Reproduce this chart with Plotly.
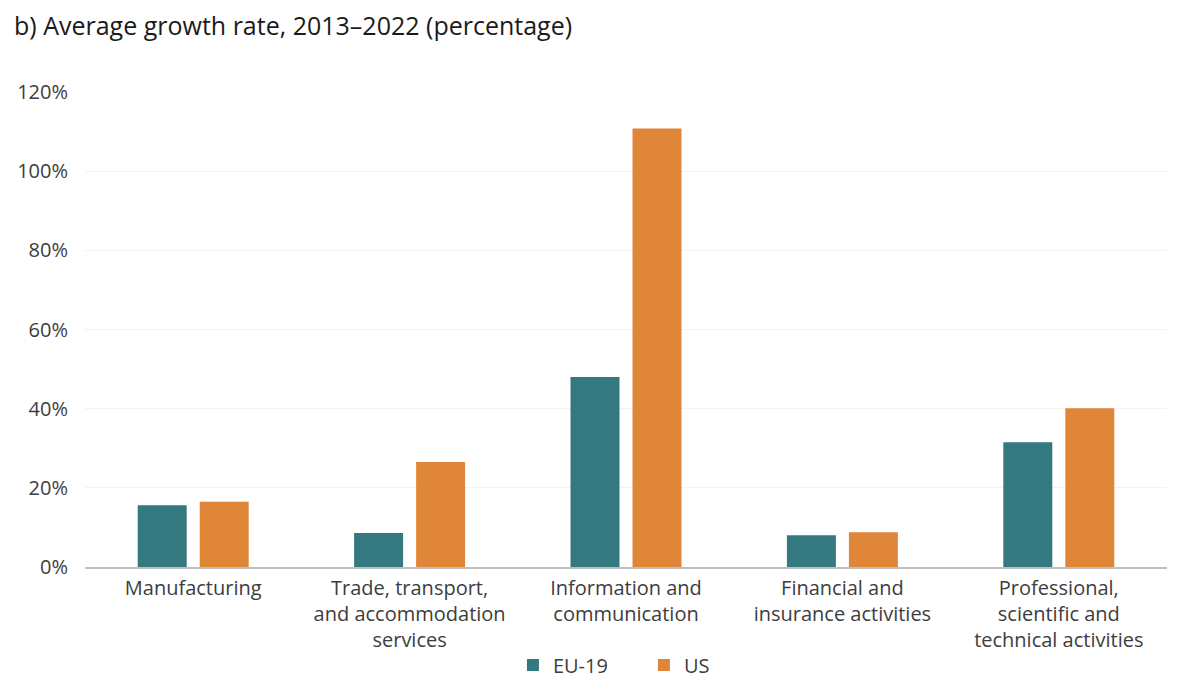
import plotly.graph_objects as go

categories = [
    "Manufacturing",
    "Trade, transport,<br>and accommodation<br>services",
    "Information and<br>communication",
    "Financial and<br>insurance activities",
    "Professional,<br>scientific and<br>technical activities",
]
eu19 = [15.6, 8.6, 48.0, 8.0, 31.5]
us = [16.5, 26.5, 110.8, 8.8, 40.1]
tick_vals = [0, 20, 40, 60, 80, 100, 120]
tick_text = ["0%", "20%", "40%", "60%", "80%", "100%", "120%"]

W, H = 1172, 681  # page body has an 8px margin

fig = go.Figure()
fig.add_trace(go.Bar(name="EU-19", x=categories, y=eu19, marker_color="#347880",
                     marker_line_width=0))
fig.add_trace(go.Bar(name="US", x=categories, y=us, marker_color="#E08639",
                     marker_line_width=0))

fig.update_layout(
    width=W, height=H,
    paper_bgcolor="white", plot_bgcolor="white",
    barmode="group", bargap=0.427, bargroupgap=0.21,
    margin=dict(l=77, r=13, t=84, b=122, autoexpand=False),
    font=dict(family="Open Sans, sans-serif", size=20, color="#3d3d3d"),
    title=dict(text="b) Average growth rate, 2013\u20132022 (percentage)",
               x=6 / W, xanchor="left", y=1 - 18 / H, yanchor="middle",
               pad=dict(l=0, t=0, b=0, r=0),
               font=dict(family="Open Sans, sans-serif", size=25, color="#1a1a1a")),
    showlegend=True,
    legend=dict(orientation="h", x=0.3955, xanchor="left", y=-0.165, yanchor="top",
                font=dict(size=20, color="#3d3d3d"), itemwidth=30,
                entrywidth=86, entrywidthmode="pixels",
                traceorder="normal"),
)
fig.update_yaxes(range=[0, 120], tickvals=tick_vals, ticktext=tick_text,
                 showgrid=True, gridcolor="#F2F2F2", gridwidth=1,
                 zeroline=False, showline=False, ticks="", ticklen=0,
                 automargin=False, ticklabelstandoff=16,
                 tickfont=dict(size=20, color="#3d3d3d"))
fig.update_xaxes(showline=True, linecolor="#BFBFBF", linewidth=2, ticks="",
                 automargin=False, ticklabelstandoff=2,
                 tickfont=dict(size=20, color="#3d3d3d"))

fig.write_html("out.html")
